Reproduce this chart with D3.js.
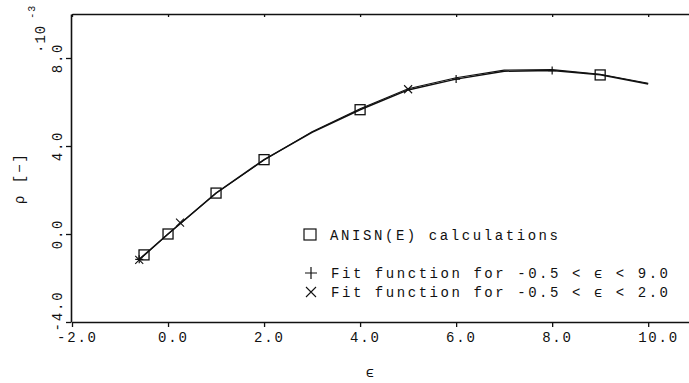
<!DOCTYPE html>
<html><head><meta charset="utf-8">
<script src="https://cdn.jsdelivr.net/npm/d3@7"></script>
<style>
body{margin:0;background:#fff;}
svg{display:block;}
text{font-family:"Liberation Mono","DejaVu Sans Mono",monospace;fill:#111;}
</style></head><body>
<svg id="c" width="689" height="383"></svg>
<script>
// ---- data ----
const xTicks = [-2, 0, 2, 4, 6, 8, 10];
const yTicks = [-4, 0, 4, 8];
const xTickLabels = ["-2.0", "0.0", "2.0", "4.0", "6.0", "8.0", "10.0"];
const yTickLabels = ["-4.0", "0.0", "4.0", "8.0"];

// ANISN(E) calculations (squares)
const anisnX = [-0.5, 0, 1, 2, 4, 9];
const anisnY = [-0.95, 0.0, 1.86, 3.38, 5.65, 7.23];

// Fit function for -0.5 < eps < 9.0 (+)
const fitAX = [-0.6, 0, 1, 2, 3, 4, 5, 6, 7, 8, 9, 10];
const fitAY = [-1.15, 0.0, 1.86, 3.38, 4.62, 5.65, 6.55, 7.04, 7.40, 7.43, 7.24, 6.82];
const fitAMarkX = [-0.6, 6, 8];
const fitAMarkY = [-1.15, 7.04, 7.43];

// Fit function for -0.5 < eps < 2.0 (x)
const fitBX = [-0.6, 0, 1, 2, 3, 4, 5, 6, 7, 8, 9, 10];
const fitBY = [-1.18, 0.0, 1.86, 3.36, 4.65, 5.69, 6.60, 7.10, 7.45, 7.47, 7.26, 6.85];
const fitBMarkX = [-0.6, 0.25, 5];
const fitBMarkY = [-1.18, 0.52, 6.58];

const legendLabels = ["ANISN(E) calculations",
                      "Fit function for -0.5 < \u03F5 < 9.0",
                      "Fit function for -0.5 < \u03F5 < 2.0"];

// ---- drawing ----
const svg = d3.select("#c");
const ink = "#111";
const x = d3.scaleLinear().domain([-2, 10.85]).range([72, 689]);
const y = d3.scaleLinear().domain([-4, 10]).range([322, 14]);

// bottom axis
const gx = svg.append("g").attr("transform", `translate(0,${y(-4)})`)
  .call(d3.axisBottom(x).tickValues(xTicks).tickSize(5).tickSizeOuter(0).tickFormat(""));
// top axis (ticks inward)
const gt = svg.append("g").attr("transform", `translate(0,${y(10)})`)
  .call(d3.axisBottom(x).tickValues(xTicks).tickSize(3).tickSizeOuter(0).tickFormat(""));
// left axis
const gy = svg.append("g").attr("transform", `translate(${x(-2) - 1},0)`)
  .call(d3.axisLeft(y).tickValues(yTicks).tickSize(5).tickSizeOuter(0).tickFormat(""));
[gx, gt, gy].forEach(g => {
  g.select(".domain").attr("stroke", ink).attr("stroke-width", 1.6);
  g.selectAll(".tick line").attr("stroke", ink).attr("stroke-width", 1.3);
});

// x tick labels
svg.append("g").selectAll("text").data(xTicks).join("text")
  .attr("x", (d) => x(d) - (d < 0 ? 15 : 10))
  .attr("y", 342)
  .attr("font-size", 14).attr("letter-spacing", 1.8)
  .text((d, i) => xTickLabels[i]);

// y tick labels (rotated)
svg.append("g").selectAll("text").data(yTicks).join("text")
  .attr("transform", d => `translate(62,${y(d) + (d < 0 ? -11 : 0)}) rotate(-90)`)
  .attr("text-anchor", "middle")
  .attr("font-size", 14).attr("letter-spacing", 1.8)
  .text((d, i) => yTickLabels[i]);

// exponent label
const ex = svg.append("text").attr("transform", "translate(45,53) rotate(-90)")
  .attr("font-size", 14).attr("letter-spacing", 1);
ex.append("tspan").text("\u00B710");
ex.append("tspan").attr("font-size", 10).attr("dy", -10).attr("dx", 6).text("-3");

// axis titles
svg.append("text").attr("transform", "translate(24,178) rotate(-90)")
  .attr("text-anchor", "middle").attr("font-size", 14).attr("letter-spacing", 2)
  .text("\u03C1 [\u2212]");
svg.append("text").attr("x", 370).attr("y", 377).attr("text-anchor", "middle")
  .attr("font-size", 14).text("\u03F5");

// lines
const line = d3.line().x(d => x(d[0])).y(d => y(d[1]));
svg.append("path").datum(d3.zip(fitAX, fitAY)).attr("d", line)
  .attr("fill", "none").attr("stroke", ink).attr("stroke-width", 1.5);
svg.append("path").datum(d3.zip(fitBX, fitBY)).attr("d", line)
  .attr("fill", "none").attr("stroke", ink).attr("stroke-width", 1.1);

// symbols
function plus(g, cx, cy, s) {
  g.append("path").attr("d", `M${cx - s},${cy}H${cx + s}M${cx},${cy - s}V${cy + s}`)
    .attr("stroke", ink).attr("stroke-width", 1.2).attr("fill", "none");
}
function cross(g, cx, cy, s) {
  g.append("path").attr("d", `M${cx - s},${cy - s}L${cx + s},${cy + s}M${cx - s},${cy + s}L${cx + s},${cy - s}`)
    .attr("stroke", ink).attr("stroke-width", 1.1).attr("fill", "none");
}
const mk = svg.append("g");
d3.zip(anisnX, anisnY).forEach(([a, b]) => {
  mk.append("rect").attr("x", x(a) - 5).attr("y", y(b) - 5).attr("width", 10).attr("height", 10)
    .attr("fill", "none").attr("stroke", ink).attr("stroke-width", 1.3);
});
d3.zip(fitAMarkX, fitAMarkY).forEach(([a, b]) => plus(mk, x(a), y(b), 4));
d3.zip(fitBMarkX, fitBMarkY).forEach(([a, b]) => cross(mk, x(a), y(b), 4));

// legend
const lg = svg.append("g");
lg.append("rect").attr("x", 304).attr("y", 229).attr("width", 12).attr("height", 11)
  .attr("fill", "none").attr("stroke", ink).attr("stroke-width", 1.2);
plus(lg, 311, 273, 6);
cross(lg, 311, 292, 5);
const ly = [240, 278, 297];
const lx = [330, 331, 331];
const lw = [228, 337, 337];
legendLabels.forEach((t, i) => {
  lg.append("text").attr("x", lx[i]).attr("y", ly[i]).attr("font-size", 14)
    .attr("textLength", lw[i]).attr("lengthAdjust", "spacing").text(t);
});
</script>
</body></html>
